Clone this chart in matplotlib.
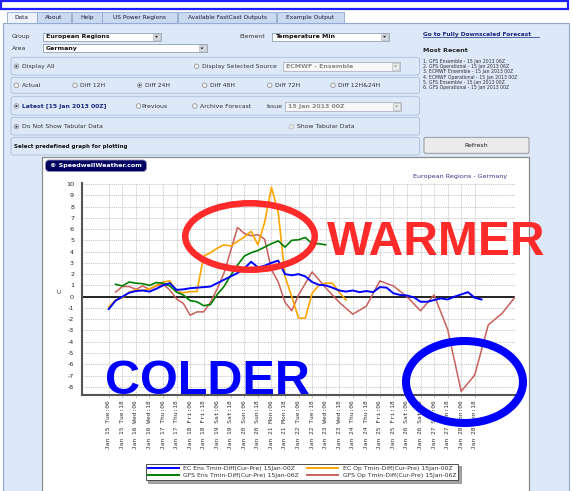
import matplotlib
matplotlib.use("Agg")
import matplotlib.pyplot as plt
from matplotlib.patches import Rectangle, FancyBboxPatch, Ellipse, Circle, Polygon
from matplotlib.lines import Line2D
import numpy as np

plt.rcParams["axes.unicode_minus"] = False

# ---------------------------------------------------------------
# data: Tmin difference (current run - previous run), deg C
# x positions are hours after Jan 15 06Z
# ---------------------------------------------------------------
tick_labels = [
    "Jan 15 Tue:06", "Jan 15 Tue:18", "Jan 16 Wed:06", "Jan 16 Wed:18",
    "Jan 17 Thu:06", "Jan 17 Thu:18", "Jan 18 Fri:06", "Jan 18 Fri:18",
    "Jan 19 Sat:06", "Jan 19 Sat:18", "Jan 20 Sun:06", "Jan 20 Sun:18",
    "Jan 21 Mon:06", "Jan 21 Mon:18", "Jan 22 Tue:06", "Jan 22 Tue:18",
    "Jan 23 Wed:06", "Jan 23 Wed:18", "Jan 24 Thu:06", "Jan 24 Thu:18",
    "Jan 25 Fri:06", "Jan 25 Fri:18", "Jan 26 Sat:06", "Jan 26 Sat:18",
    "Jan 27 Sun:06", "Jan 27 Sun:18", "Jan 28 Mon:06", "Jan 28 Mon:18",
]

ec_ens = [-1.1, -0.35, 0.0, 0.35, 0.5, 0.55, 0.45, 0.7, 1.0, 1.2,
          0.6, 0.65, 0.75, 0.8, 0.85, 0.9, 1.2, 1.5, 1.8, 2.1,
          2.5, 3.1, 2.6, 2.75, 3.0, 3.2, 2.0, 1.9, 2.0, 1.8,
          1.3, 1.05, 1.0, 0.8, 0.55, 0.45, 0.55, 0.4, 0.5, 0.4,
          0.85, 0.8, 0.3, 0.15, 0.1, -0.05, -0.45, -0.45, -0.3, -0.15,
          -0.25, 0.0, 0.2, 0.4, -0.1, -0.25]
ec_ens_start = 0

ec_op = [-0.9, -0.3, -0.1, 0.4, 0.6, 0.55, 0.7, 1.0, 1.3, 1.4,
         0.45, 0.35, 0.45, 0.45, 3.6, 3.9, 4.3, 4.6, 4.5, 4.9,
         5.3, 5.8, 4.6, 6.6, 9.7, 7.5, 1.8, 0.0, -1.9, -1.9,
         0.3, 1.0, 1.2, 1.2, 0.4, -0.3]
ec_op_start = 0

gfs_ens = [1.1, 0.95, 1.3, 1.2, 1.15, 1.0, 1.25, 1.2, 0.95, 0.4,
           0.15, -0.35, -0.45, -0.8, -0.7, 0.2, 0.9, 1.9, 2.8, 3.6,
           3.9, 4.1, 4.4, 4.7, 4.95, 4.4, 5.0, 5.05, 5.25, 4.7,
           4.7, 4.6]
gfs_ens_start = 6

gfs_op_hours = np.r_[6:169:6, 180:361:12]
gfs_op = [0.4, 0.9, 0.9, 0.65, 0.95, 0.65, 0.95, 1.1, 0.6, -0.2,
          -0.6, -1.65, -1.35, -1.35, -0.5, 0.7, 2.1, 4.1, 6.15, 5.6,
          5.4, 5.5, 5.1, 2.4, 1.3, -0.5, -1.25, 0.15,
          2.2, 0.8, -0.5, -1.55, -0.85, 1.4, 0.95, 0.0, -1.25, 0.15,
          -2.9, -8.4, -6.95, -2.5, -1.5, 0.0]

series_names = ["EC Ens Tmin-Diff(Cur-Pre) 15Jan-00Z",
                "EC Op Tmin-Diff(Cur-Pre) 15Jan-00Z",
                "GFS Ens Tmin-Diff(Cur-Pre) 15Jan-06Z",
                "GFS Op Tmin-Diff(Cur-Pre) 15Jan-06Z"]
series_colors = ["#0000ff", "#ffa500", "#008000", "#c8605a"]

W, H = 573, 491
fig = plt.figure(figsize=(W / 100, H / 100), dpi=100)

# --------------------------------------------------------------
# page background, drawn in pixel coordinates
# --------------------------------------------------------------
bg = fig.add_axes([0, 0, 1, 1], zorder=0)
bg.set_xlim(0, W)
bg.set_ylim(H, 0)
bg.axis("off")

PANEL = "#dde8f8"
BORDER = "#8fa8cc"


def rect(x0, y0, x1, y1, fc, ec="none", lw=0.6, z=1):
    bg.add_patch(Rectangle((x0, y0), x1 - x0, y1 - y0, facecolor=fc,
                           edgecolor=ec, linewidth=lw, zorder=z))


def rbox(x0, y0, x1, y1, fc, ec, lw=0.6, r=2.5, z=1):
    bg.add_patch(FancyBboxPatch((x0, y0), x1 - x0, y1 - y0,
                                boxstyle=f"round,pad=0,rounding_size={r}",
                                facecolor=fc, edgecolor=ec, linewidth=lw, zorder=z))


def txt(x, y, s, size=4.4, z=5, **kw):
    kw.setdefault("va", "center")
    kw.setdefault("ha", "left")
    bg.text(x, y, s, fontsize=size, zorder=z, **kw)


def radio(x, y, on=False, enabled=True):
    bg.add_patch(Circle((x, y), 2.3, facecolor="#f2f2f2" if enabled else "#e8e8e8",
                        edgecolor="#8a8a8a" if enabled else "#bbbbbb",
                        linewidth=0.5, zorder=4))
    if on:
        bg.add_patch(Circle((x, y), 1.1, facecolor="#2b3a67", zorder=5))


def dropdown(x0, y0, x1, y1, s, grey=False):
    rect(x0, y0, x1, y1, "#f7f7f7" if grey else "white",
         ec="#a0a8b8" if grey else "#7f8fa9", lw=0.5, z=3)
    rect(x1 - 8, y0 + 1, x1 - 1, y1 - 1, "#e8eaee" if grey else "#d4d8e0",
         ec="#b0b0b0", lw=0.4, z=4)
    cx, cy = x1 - 4.5, (y0 + y1) / 2
    bg.add_patch(Polygon([[cx - 1.6, cy - 0.8], [cx + 1.6, cy - 0.8], [cx, cy + 1.2]],
                         closed=True, facecolor="#999" if grey else "#222", zorder=5))
    txt(x0 + 3, (y0 + y1) / 2, s, size=4.5, weight="bold",
        color="#8a8a8a" if grey else "#111")


# top blue box
rect(1, 1, 568, 9, "white", ec="#1f1fff", lw=1.6)

# main panel
rect(3, 22.7, 569, 500, PANEL, ec=BORDER, lw=0.8)

# tabs
tabs = [("Data", 6.6, 36.5), ("About", 36.5, 71.3), ("Help", 72.4, 101.6),
        ("US Power Regions", 102.3, 177.3),
        ("Available FastCast Outputs", 178, 276), ("Example Output", 277, 343.6)]
for k, (name, x0, x1) in enumerate(tabs):
    sel = k == 0
    rect(x0, 11.7 if sel else 12.2, x1, 23.2 if sel else 22.7,
         "#eef3fb" if sel else "#c9d9ef", ec=BORDER, lw=0.6, z=2)
    txt((x0 + x1) / 2, 17.4, name, size=4.2, ha="center", color="#1a1a3a")

# selectors
txt(12, 36.7, "Group", color="#333")
dropdown(43, 32.7, 161, 40.7, "European Regions")
txt(239, 36.7, "Element", color="#333")
dropdown(272, 32.7, 389, 40.7, "Temperature Min")
txt(12, 48.3, "Area", color="#333")
dropdown(43, 44.3, 206.5, 52.3, "Germany")

# right column
txt(423, 34.3, "Go to Fully Downscaled Forecast", size=4.2, weight="bold", color="#1c2580")
bg.plot([423, 539], [37.2, 37.2], color="#1c2580", lw=0.5, zorder=5)
txt(423, 50.7, "Most Recent", size=4.6, weight="bold", color="#222")
recent = ["1. GFS Ensemble - 15 Jan 2013 06Z",
          "2. GFS Operational - 15 Jan 2013 06Z",
          "3. ECMWF Ensemble - 15 Jan 2013 00Z",
          "4. ECMWF Operational - 15 Jan 2013 00Z",
          "5. GFS Ensemble - 15 Jan 2013 00Z",
          "6. GFS Operational - 15 Jan 2013 00Z"]
for k, s in enumerate(recent):
    txt(423, 61.7 + 5.1 * k, s, size=3.3, color="#333")

# option rows
for y0, y1 in [(57.3, 75), (77.3, 93.3), (96.7, 115), (117.3, 135), (137.3, 155)]:
    rbox(11, y0, 419.6, y1, PANEL, ec="#a9bedb", lw=0.6)

radio(16.4, 66.3, on=True)
txt(22, 66.3, "Display All", color="#333")
radio(196.6, 66.3)
txt(202, 66.3, "Display Selected Source", color="#333")
dropdown(283, 61.7, 400, 70.7, "ECMWF - Ensemble", grey=True)

for x, s, on in [(16.4, "Actual", False), (75, "Diff 12H", False),
                 (139.6, "Diff 24H", True), (204.7, "Diff 48H", False),
                 (269.7, "Diff 72H", False), (333, "Diff 12H&24H", False)]:
    radio(x, 85.3, on=on)
    txt(x + 5.5, 85.3, s, color="#333")

radio(16.4, 106, on=True)
txt(22, 106, "Latest [15 Jan 2013 00Z]", weight="bold", color="#1c2a80")
radio(138.5, 106)
txt(141.5, 106, "Previous", color="#333")
radio(194.8, 106)
txt(200.5, 106, "Archive Forecast", color="#333")
txt(266.8, 106, "Issue", color="#333")
dropdown(285, 101.7, 401, 111, "15 Jan 2013 00Z", grey=True)

radio(16.4, 126.7, on=True)
txt(22, 126.7, "Do Not Show Tabular Data", color="#333")
radio(291.3, 126.7, enabled=False)
txt(297, 126.7, "Show Tabular Data", color="#333")

txt(13.9, 146.7, "Select predefined graph for plotting", size=4.0, weight="bold", color="#111")
rbox(424, 137.3, 529, 153.3, "#ebebeb", ec="#8a8a8a", lw=0.6, r=1.5)
txt(476.5, 145.3, "Refresh", size=4.5, ha="center", color="#222")

# white chart panel
rect(42, 156.5, 529, 500, "white", ec="#8c8c8c", lw=0.9, z=6)

# logo and titles
bg.add_patch(FancyBboxPatch((45.5, 160), 101, 11.5, boxstyle="round,pad=0,rounding_size=4",
                            facecolor="#000060", edgecolor="#9090b0", linewidth=0.6, zorder=7))
txt(96, 166, "\u00a9 SpeedwellWeather.com", size=4.6, z=8, ha="center", weight="bold",
    color="white")
txt(507, 176.3, "European Regions - Germany", size=4.6, z=8, ha="right", color="#333388")
txt(60, 291, "C", size=4.6, z=8, ha="center", rotation=90, color="#222")

# --------------------------------------------------------------
# chart
# --------------------------------------------------------------
x_left, x_right = 81.7, 515.4
y_top, y_bot = 183.4, 395.3
ax = fig.add_axes([x_left / W, 1 - y_bot / H, (x_right - x_left) / W, (y_bot - y_top) / H],
                  zorder=2)
ax.patch.set_alpha(0)

hours_6 = lambda start, n: start + 6 * np.arange(n)
ax.plot(hours_6(ec_ens_start, len(ec_ens)), ec_ens, color=series_colors[0], lw=1.4, zorder=5)
ax.plot(hours_6(ec_op_start, len(ec_op)), ec_op, color=series_colors[1], lw=1.2, zorder=4)
ax.plot(hours_6(gfs_ens_start, len(gfs_ens)), gfs_ens, color=series_colors[2], lw=1.2, zorder=4)
ax.plot(gfs_op_hours, gfs_op, color=series_colors[3], lw=1.1, zorder=3)

ax.axhline(0, color="#222222", lw=1.4, zorder=2)

ax.set_xlim(-24, 360)
ax.set_ylim(-8.75, 10.05)
ax.set_xticks(12 * np.arange(len(tick_labels)))
ax.set_xticklabels(tick_labels, rotation=90, fontsize=4.5, family="DejaVu Sans Mono",
                   color="#333")
ax.set_yticks(np.arange(-8, 11))
ax.tick_params(axis="y", length=0, pad=5.5, labelsize=4.6, labelcolor="#222")
ax.tick_params(axis="x", length=2, width=0.5, color="#aaaaaa", pad=1.5)

# grid: vertical lines at labelled ticks, horizontal at every degree
for xv in ax.get_xticks():
    ax.axvline(xv, color="#c4c4c4", lw=0.6, ls=(0, (1.5, 1)), zorder=1)
for yv in range(-8, 11):
    ax.axhline(yv, color="#c4c4c4", lw=0.6, ls=(0, (1.5, 1)), zorder=1)

for side in ["top", "right"]:
    ax.spines[side].set_visible(False)
for side in ["left", "bottom"]:
    ax.spines[side].set_color("#555555")
    ax.spines[side].set_linewidth(1.5)

# legend rows: EC pair on top, GFS pair below (columns fill first)
order = [0, 2, 1, 3]
handles = [Line2D([], [], color=series_colors[k], lw=1.4) for k in order]
labels = [series_names[k] for k in order]
leg = ax.legend(handles, labels, ncol=2, loc="center",
                bbox_to_anchor=(302 / W, 1 - 472 / H), bbox_transform=fig.transFigure,
                fontsize=4.4, frameon=True, fancybox=False, shadow=True,
                handlelength=5.0, handletextpad=0.8, columnspacing=1.3,
                borderpad=0.4, labelspacing=0.25)
leg.get_frame().set_edgecolor("#333333")
leg.get_frame().set_linewidth(0.6)
for t in leg.get_texts():
    t.set_color("#333")

# --------------------------------------------------------------
# hand-drawn style annotations on top
# --------------------------------------------------------------
ov = fig.add_axes([0, 0, 1, 1], zorder=3)
ov.set_xlim(0, W)
ov.set_ylim(H, 0)
ov.axis("off")
ov.patch.set_alpha(0)

ov.add_patch(Ellipse((250, 236.5), 129.5, 66.5, fill=False, edgecolor="#ff2a2a", linewidth=4.7))
ov.add_patch(Ellipse((464.5, 382), 117, 82, fill=False, edgecolor="#0000ff", linewidth=5.8))
ov.text(327, 255, "WARMER", fontsize=34.5, weight="bold", family="Liberation Sans",
        color="#ff2a2a", ha="left", va="baseline")
ov.text(105, 394, "COLDER", fontsize=35, weight="bold", family="Liberation Sans",
        color="#0000ff", ha="left", va="baseline")

fig.savefig("out.png", dpi=100)
